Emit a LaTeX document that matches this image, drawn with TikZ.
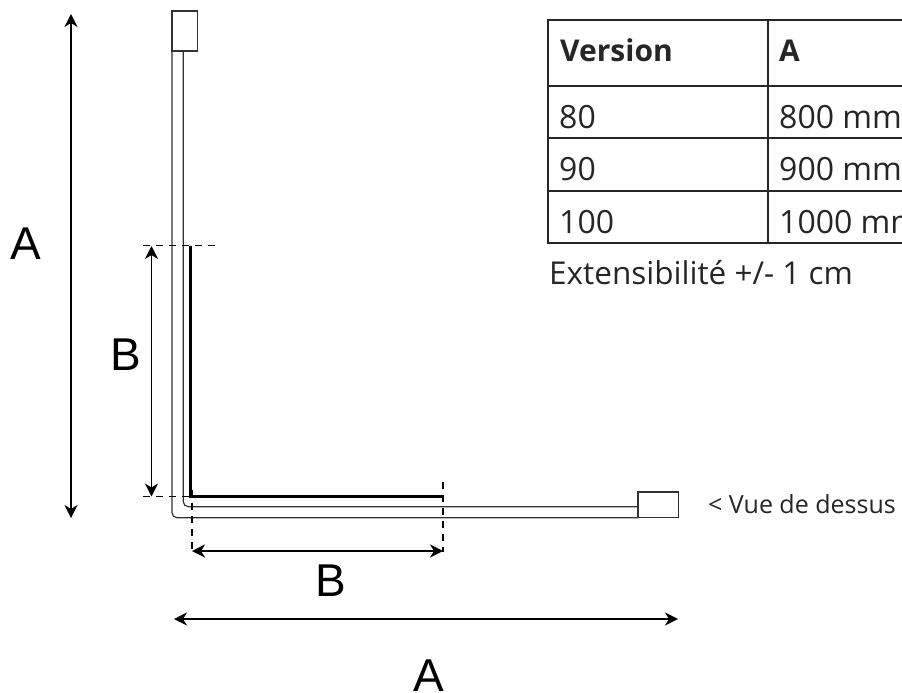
\documentclass[tikz,border=0pt]{standalone}
\usepackage{fontspec}
\setmainfont{Liberation Sans}
\newfontfamily\tabfont{Open Sans}
\usetikzlibrary{arrows.meta}
\tikzset{
  x=1pt,y=-1pt,
  tube/.style={draw=black!80,line width=1.2pt},
  thick bar/.style={draw=black,line width=3pt},
  dim/.style={draw=black,line width=1.6pt,{Stealth[length=13pt,width=13pt,inset=4pt]}-{Stealth[length=13pt,width=13pt,inset=4pt]}},
  guide/.style={draw=black,line width=1.2pt,dash pattern=on 7pt off 6pt},
  grid line/.style={draw=black!85,line width=2pt},
  big/.style={inner sep=0pt,anchor=base,font=\fontsize{46}{46}\selectfont,text=black},
  cell/.style={inner sep=0pt,anchor=base west,font=\tabfont\fontsize{32}{32}\selectfont,text=black!85},
  head/.style={cell,font=\tabfont\bfseries\fontsize{30}{30}\selectfont},
}
\begin{document}
\begin{tikzpicture}
\useasboundingbox (0,0) rectangle (902,693);
\clip (0,0) rectangle (902,693);
% tube
\coordinate (t1) at (172,51);
\coordinate (t2) at (183.3,51);
\coordinate (r1) at (638,506.7);
\coordinate (r2) at (638,517.7);
\draw[tube,rounded corners=5pt] (t1) -- (172,517.7) -- (r2);
\draw[tube,rounded corners=5pt] (t2) -- (183.3,506.7) -- (r1);
\node[tube,fill=white,minimum width=25.5pt,minimum height=40pt,inner sep=0pt,outer sep=0pt] (capT) at (184.8,31) {};
\node[tube,fill=white,minimum width=40.5pt,minimum height=25.7pt,inner sep=0pt,outer sep=0pt] (capR) at (658.3,504.8) {};
% guides
\coordinate (gt1) at (143,245.7); \coordinate (gt2) at (215,245.7);
\coordinate (gb1) at (143,496.7); \coordinate (gb2) at (190,496.7);
\coordinate (gl1) at (192,490); \coordinate (gl2) at (192,552);
\coordinate (gr1) at (443,482); \coordinate (gr2) at (443,552);
\draw[guide] (gt1) -- (gt2);
\draw[guide] (gb1) -- (gb2);
\draw[guide] (gl1) -- (gl2);
\draw[guide] (gr1) -- (gr2);
% thick bar
\coordinate (b1) at (190,246); \coordinate (b2) at (190,496.7); \coordinate (b3) at (443,496.7);
\draw[thick bar] (b1) -- (b2) -- (b3);
% dimensions
\coordinate (a1) at (71,14); \coordinate (a2) at (71,518);
\coordinate (a3) at (174,619); \coordinate (a4) at (678,619);
\coordinate (c1) at (151.5,246); \coordinate (c2) at (151.5,496.5);
\coordinate (c3) at (192,551); \coordinate (c4) at (443,551);
\draw[dim] (a1) -- (a2);
\draw[dim] (a3) -- (a4);
\draw[dim] (c1) -- (c2);
\draw[dim] (c3) -- (c4);
\node[big] (la1) at (25.5,259) {A};
\node[big] (la2) at (429,691) {A};
\node[big] (lb1) at (125.5,370) {B};
\node[big] (lb2) at (331,596) {B};
% table
\draw[grid line] (546.5,20) -- (902,20);
\draw[grid line] (547.5,86) -- (902,86);
\draw[grid line] (547.5,138) -- (902,138);
\draw[grid line] (547.5,191) -- (902,191);
\draw[grid line] (546.5,243) -- (902,243);
\draw[grid line] (547.5,20) -- (547.5,243);
\draw[grid line] (768,20) -- (768,243);
\node[head] (h1) at (560,61.7) {Version};
\node[head] (h2) at (779,61.7) {A};
\node[cell] (c11) at (559,128) {80};
\node[cell] (c12) at (779,128) {800 mm};
\node[cell] (c21) at (559,180.5) {90};
\node[cell] (c22) at (779,180.5) {900 mm};
\node[cell] (c31) at (559,233) {100};
\node[cell] (c32) at (779,233) {1000 mm};
\node[cell,font=\tabfont\fontsize{31.5}{32}\selectfont] (ext) at (549,284) {Extensibilité +/- 1 cm};
\node[inner sep=0pt,anchor=base west,font=\tabfont\fontsize{25}{25}\selectfont,text=black!85] (vue) at (708,513) {< Vue de dessus};
\end{tikzpicture}
\end{document}
